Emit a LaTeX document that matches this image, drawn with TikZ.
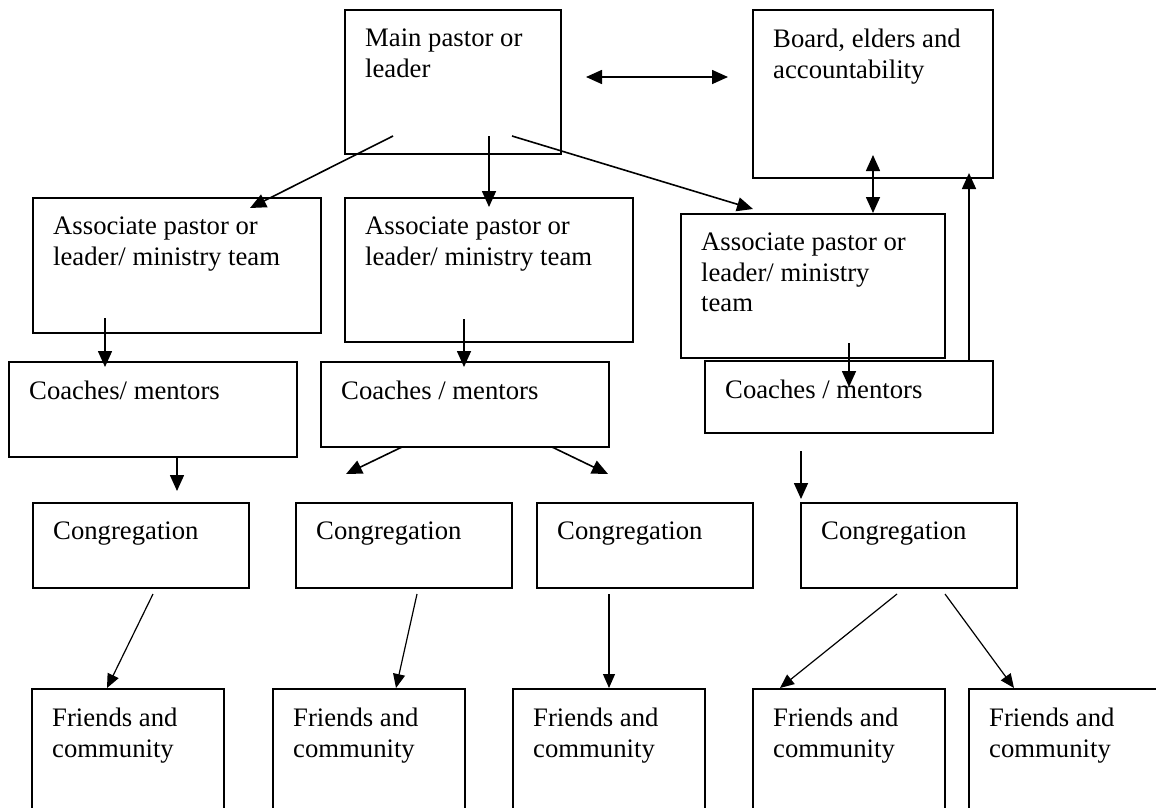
\documentclass[tikz,border=0pt]{standalone}
\usepackage{fontspec}
\setmainfont{Liberation Serif}
\usetikzlibrary{arrows.meta}

\tikzset{
  box/.style={draw, line width=1.9pt, anchor=north west, inner sep=0pt, outer sep=0pt},
  txt/.style={anchor=north west, align=left, inner sep=0pt, xshift=20pt, yshift=-18.5pt,
    font=\fontsize{26.7}{30.8}\selectfont},
  arr/.style={line width=1.6pt, -{Triangle[length=16pt,width=14pt]}},
  darr/.style={line width=1.6pt, {Triangle[length=16pt,width=14pt]}-{Triangle[length=16pt,width=14pt]}},
  thinarr/.style={line width=1.2pt, -{Triangle[length=14pt,width=12pt]}}
}

\begin{document}
\begin{tikzpicture}[x=1pt, y=1pt]
    \useasboundingbox (0,0) rectangle (1156,-807);

    % Leadership
    \node[box, minimum width=216, minimum height=144,
      label={[txt]north west:{Main pastor or\\leader}}] (main) at (345,-10) {};
    \node[box, minimum width=240, minimum height=168,
      label={[txt]north west:{Board, elders and\\accountability}}] (board) at (753,-10) {};

    % Associates
    \node[box, minimum width=288, minimum height=135,
      label={[txt]north west:{Associate pastor or\\leader/ ministry team}}] (assocA) at (33,-198) {};
    \node[box, minimum width=288, minimum height=144,
      label={[txt]north west:{Associate pastor or\\leader/ ministry team}}] (assocB) at (345,-198) {};
    \node[box, minimum width=264, minimum height=144,
      label={[txt]north west:{Associate pastor or\\leader/ ministry\\team}}] (assocC) at (681,-214) {};

    % Coaches
    \node[box, minimum width=288, minimum height=95,
      label={[txt]north west:{Coaches/ mentors}}] (coachA) at (9,-362) {};
    \node[box, minimum width=288, minimum height=85,
      label={[txt]north west:{Coaches / mentors}}] (coachB) at (321,-362) {};
    \node[box, minimum width=288, minimum height=72,
      label={[txt]north west:{Coaches / mentors}}] (coachC) at (705,-361) {};

    % Congregations and friends
    \foreach \n/\x in {1/33, 2/296, 3/537, 4/801}
        \node[box, minimum width=216, minimum height=85,
          label={[txt]north west:{Congregation}}] (cong\n) at (\x,-503) {};
    \foreach \n/\x in {1/32, 2/273, 3/513, 4/753, 5/969}
        \node[box, minimum width=192, minimum height=140,
          label={[txt]north west:{Friends and\\community}}] (friend\n) at (\x,-689) {};

    % Arrows from the main leader
    \draw[arr] ([shift={(48,18)}]main.south west) -- ([shift={(217,-10)}]assocA.north west);
    \draw[arr] ([shift={(144,18)}]main.south west) -- ([shift={(144,-9)}]assocB.north west);
    \draw[arr] ([shift={(167,18)}]main.south west) -- ([shift={(72,5)}]assocC.north west);
    \draw[darr] ([shift={(25,-67)}]main.north east) -- ([shift={(-25,-67)}]board.north west);
    \draw[darr] ([shift={(120,23)}]board.south west) -- ([shift={(192,1)}]assocC.north west);
    \draw[arr] ([shift={(264,0)}]coachC.north west) -- ([shift={(216,5)}]board.south west);

    % Associates to coaches
    \draw[arr] ([shift={(72,15)}]assocA.south west) -- ([shift={(96,-5)}]coachA.north west);
    \draw[arr] ([shift={(119,23)}]assocB.south west) -- ([shift={(143,-5)}]coachB.north west);
    \draw[arr] ([shift={(168,15)}]assocC.south west) -- ([shift={(144,-26)}]coachC.north west);

    % Coaches to congregations
    \draw[arr] ([shift={(168,0)}]coachA.south west) -- ([shift={(144,12)}]cong1.north west);
    \draw[arr] ([shift={(81,0)}]coachB.south west) -- ([shift={(50,29)}]cong2.north west);
    \draw[arr] ([shift={(231,0)}]coachB.south west) -- ([shift={(71,29)}]cong3.north west);
    \draw[arr] ([shift={(96,-18)}]coachC.south west) -- ([shift={(0,4)}]cong4.north west);

    % Congregations to friends
    \draw[thinarr] ([shift={(120,-6)}]cong1.south west) -- ([shift={(75,1)}]friend1.north west);
    \draw[thinarr] ([shift={(121,-6)}]cong2.south west) -- ([shift={(123,1)}]friend2.north west);
    \draw[thinarr] ([shift={(72,-6)}]cong3.south west) -- ([shift={(96,1)}]friend3.north west);
    \draw[thinarr] ([shift={(96,-6)}]cong4.south west) -- ([shift={(27,1)}]friend4.north west);
    \draw[thinarr] ([shift={(144,-6)}]cong4.south west) -- ([shift={(45,1)}]friend5.north west);
\end{tikzpicture}
\end{document}
